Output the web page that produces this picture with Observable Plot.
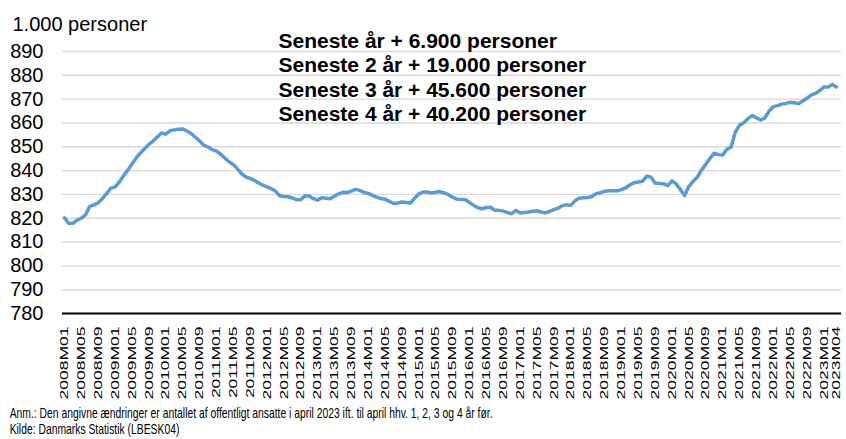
<!DOCTYPE html>
<html><head><meta charset="utf-8">
<script src="https://cdn.jsdelivr.net/npm/d3@7"></script>
<script src="https://cdn.jsdelivr.net/npm/@observablehq/plot@0.6"></script>
<style>
body{margin:0;background:#fff;font-family:"Liberation Sans",Arial,sans-serif;}
#notes{padding-left:14px;margin-top:3px;font-size:15px;line-height:16px;color:#000;transform:scaleX(0.69);transform-origin:0 0;white-space:nowrap;}
</style></head><body>
<div id="chart"></div>
<div id="notes"></div>
<script>
// Offentligt ansatte, 1.000 personer, månedlig 2008M01-2023M04
const v2008 = [820.2, 817.8, 817.9, 819.2, 820.0, 821.5, 825.0, 825.6, 826.5, 828.3, 830.4, 832.6];
const v2009 = [833.2, 835.2, 837.8, 840.2, 842.8, 845.3, 847.4, 849.2, 851.0, 852.4, 854.1, 855.8];
const v2010 = [855.3, 856.7, 857.1, 857.4, 857.5, 856.6, 855.6, 854.0, 852.5, 850.7, 849.9, 848.8];
const v2011 = [848.3, 846.8, 845.3, 843.7, 842.6, 840.7, 838.6, 837.3, 836.7, 835.9, 834.8, 833.9];
const v2012 = [833.2, 832.4, 831.4, 829.4, 829.1, 829.0, 828.5, 827.8, 827.8, 829.4, 829.3, 828.2];
const v2013 = [827.6, 828.6, 828.4, 828.2, 829.3, 830.2, 830.9, 830.8, 831.4, 832.1, 831.7, 830.8];
const v2014 = [830.4, 829.6, 828.8, 828.3, 828.0, 827.1, 826.2, 826.4, 826.8, 826.6, 826.4, 828.4];
const v2015 = [830.2, 831.0, 831.0, 830.6, 830.9, 831.2, 830.6, 829.9, 828.8, 828.0, 827.9, 827.8];
const v2016 = [826.6, 825.4, 824.4, 824.0, 824.5, 824.6, 823.3, 823.3, 823.0, 822.4, 821.9, 823.3];
const v2017 = [822.2, 822.4, 822.6, 822.9, 823.1, 822.6, 822.2, 822.9, 823.6, 824.2, 825.2, 825.7];
const v2018 = [825.4, 827.3, 828.4, 828.6, 828.7, 829.1, 830.3, 830.7, 831.3, 831.5, 831.5, 831.5];
const v2019 = [832.0, 832.7, 834.0, 834.9, 835.2, 835.5, 837.6, 837.3, 834.8, 834.6, 834.5, 833.7];
const v2020 = [835.7, 834.4, 832.0, 829.5, 833.4, 835.5, 837.2, 840.2, 842.6, 845.1, 847.3, 846.7];
const v2021 = [846.5, 848.9, 849.8, 856.1, 859.0, 860.1, 861.8, 863.1, 862.2, 861.2, 862.0, 864.9];
const v2022 = [866.8, 867.3, 867.9, 868.2, 868.7, 868.5, 868.1, 869.2, 870.4, 871.7, 872.4, 873.5];
const v2023 = [875.1, 875.1, 876.1, 875.1];

const values = [v2008, v2009, v2010, v2011, v2012, v2013, v2014, v2015,
                v2016, v2017, v2018, v2019, v2020, v2021, v2022, v2023].flat();

const years = d3.range(2008, 2024);
const months = years.flatMap(y => d3.range(1, 13).map(m => `${y}M${String(m).padStart(2, "0")}`)).slice(0, values.length);

const yTicks = [780, 790, 800, 810, 820, 830, 840, 850, 860, 870, 880, 890];
const gridTicks = yTicks.filter(t => t > 780);
const xTickIndex = d3.range(0, values.length, 4).concat([values.length - 1]);

const yLabel = "1.000 personer";
const titleLines = [
  "Seneste år + 6.900 personer",
  "Seneste 2 år + 19.000 personer",
  "Seneste 3 år + 45.600 personer",
  "Seneste 4 år + 40.200 personer"
];
const noteLines = [
  "Anm.: Den angivne ændringer er antallet af offentligt ansatte i april 2023 ift. til april hhv. 1, 2, 3 og 4 år før.",
  "Kilde: Danmarks Statistik (LBESK04)"
];

const data = values.map((v, i) => ({i, v, month: months[i]}));

const chart = Plot.plot({
  width: 846,
  height: 402,
  marginLeft: 62,
  marginRight: 5,
  marginTop: 51,
  marginBottom: 89,
  insetLeft: 2,
  insetRight: 5,
  style: {fontFamily: "'Liberation Sans', Arial, sans-serif", fontSize: "20px", color: "#000", background: "#fff"},
  x: {domain: [0, values.length - 1]},
  y: {domain: [780, 890]},
  marks: [
    Plot.gridY(gridTicks, {stroke: "#d9d9d9", strokeOpacity: 1, strokeWidth: 1.4}),
    Plot.axisY(yTicks, {tickSize: 0, tickPadding: 19, fontSize: 20, label: null}),
    Plot.axisX(xTickIndex, {tickSize: 0, tickPadding: 13, tickRotate: -90, fontSize: 17.5,
                            tickFormat: i => months[i], label: null}),
    Plot.ruleY([780], {stroke: "#000", strokeWidth: 2}),
    Plot.line(data, {x: "i", y: "v", stroke: "#5b9bd5", strokeWidth: 3.5, strokeLinejoin: "round", strokeLinecap: "round"}),
    Plot.text([yLabel], {frameAnchor: "top-left", dx: -50, dy: -20.5, lineAnchor: "bottom", textAnchor: "start", fontSize: 20}),
    Plot.text([titleLines.join("\n")], {frameAnchor: "top-left", dx: 216, dy: -21, lineAnchor: "top",
                                        textAnchor: "start", fontSize: 21, fontWeight: "bold", lineHeight: 1.16})
  ]
});

chart.querySelectorAll('g[aria-label="x-axis tick label"] text').forEach(t => {
  const tr = t.getAttribute("transform");
  if (tr) t.setAttribute("transform", tr + " scale(1,0.66)");
});

document.getElementById("chart").appendChild(chart);
document.getElementById("notes").innerHTML = noteLines.join("<br>");
</script>
</body></html>
